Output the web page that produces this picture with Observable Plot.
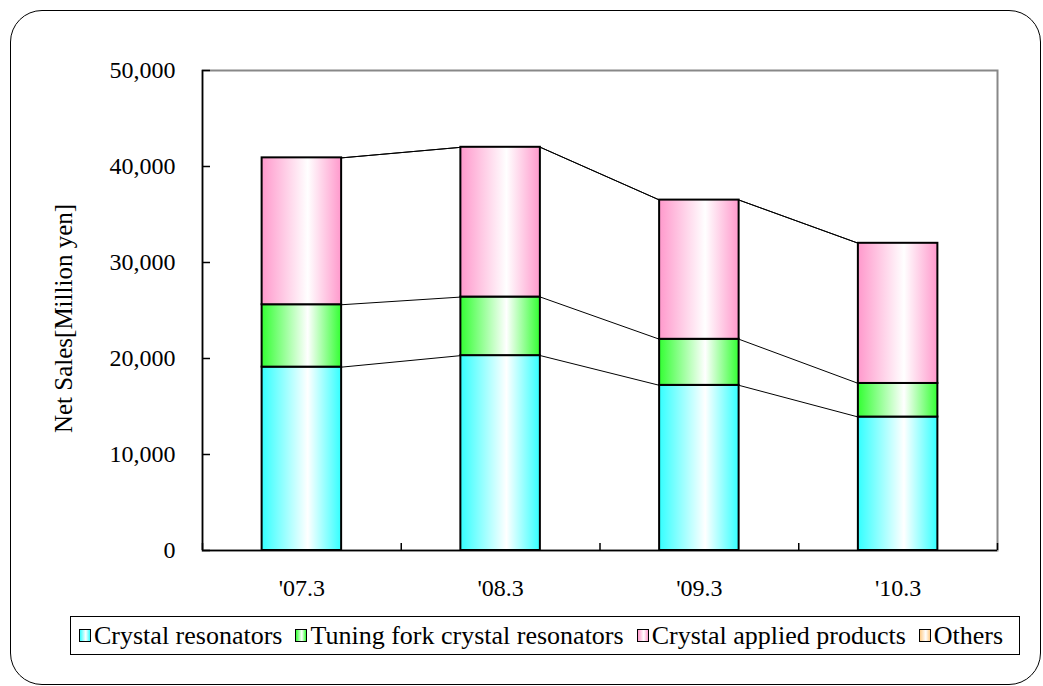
<!DOCTYPE html>
<html>
<head>
<meta charset="utf-8">
<script src="https://cdn.jsdelivr.net/npm/d3@7"></script>
<script src="https://cdn.jsdelivr.net/npm/@observablehq/plot@0.6"></script>
<style>
  body { margin: 0; background: #fff; font-family: "Liberation Serif", "Times New Roman", Times, serif; }
  #wrap { position: relative; width: 1043px; height: 686px; overflow: hidden; background: #fff; }
  #border { position: absolute; left: 10px; top: 10px; width: 1031px; height: 675px; border: 1.5px solid #000; border-radius: 32px; box-sizing: border-box; }
  #chart { position: absolute; left: 0; top: 0; }
  #chart svg, #chart svg text { font-family: "Liberation Serif", "Times New Roman", Times, serif !important; }
  #legend { position: absolute; left: 70px; top: 616px; width: 950px; height: 39px; border: 1px solid #000; box-sizing: border-box; background: #fff;
            display: flex; align-items: center; padding-left: 8px; font-size: 26px; color: #000; white-space: nowrap; }
  .item { display: flex; align-items: center; margin-right: 13px; }
  .sw { width: 10px; height: 11px; border: 1.5px solid #000; margin-right: 3px; }
</style>
</head>
<body>
<div id="wrap">
  <div id="border"></div>
  <div id="chart"></div>
  <div id="legend"></div>
</div>
<script>
// ---- data ----
const categories = ["'07.3", "'08.3", "'09.3", "'10.3"];
const seriesNames = ["Crystal resonators", "Tuning fork crystal resonators", "Crystal applied products", "Others"];
const crystalResonators = [19100, 20300, 17200, 13900];
const tuningFork = [6500, 6100, 4800, 3500];
const appliedProducts = [15300, 15600, 14500, 14600];
const others = [0, 0, 0, 0];
const yTicks = [0, 10000, 20000, 30000, 40000, 50000];
const seriesColors = ["#33ffff", "#33ff33", "#ff99cc", "#ffcc88"];

const seriesValues = [crystalResonators, tuningFork, appliedProducts, others];

// stacked rows
const rows = [];
const tops = seriesValues.map(() => []);
categories.forEach((c, i) => {
  let acc = 0;
  seriesValues.forEach((vals, s) => {
    const y1 = acc; acc += vals[i];
    rows.push({cat: c, i, s, y1, y2: acc});
    tops[s].push(acc);
  });
});

const hw = 0.2; // half bar width in band units
const links = [];
tops.forEach((t, s) => {
  for (let i = 0; i < t.length - 1; i++) {
    links.push({x1: i + 0.5 + hw, x2: i + 1.5 - hw, y1: t[i], y2: t[i + 1]});
  }
});

// gradient defs mark
function gradientDefs() {
  const defs = d3.create("svg:defs");
  seriesColors.forEach((col, s) => {
    const g = defs.append("linearGradient").attr("id", "grad" + s).attr("x1", 0).attr("x2", 1).attr("y1", 0).attr("y2", 0);
    g.append("stop").attr("offset", "0%").attr("stop-color", col);
    g.append("stop").attr("offset", "58%").attr("stop-color", "#ffffff");
    g.append("stop").attr("offset", "100%").attr("stop-color", col);
  });
  return defs.node();
}

const barMarks = seriesNames.map((name, s) =>
  Plot.rectY(rows.filter(d => d.s === s && d.y2 > d.y1), {
    x1: d => d.i + 0.5 - hw,
    x2: d => d.i + 0.5 + hw,
    y1: "y1",
    y2: "y2",
    fill: `url(#grad${s})`,
    stroke: "#000",
    strokeWidth: 2
  })
);

const plot = Plot.plot({
  width: 1043,
  height: 610,
  marginLeft: 202,
  marginRight: 46,
  marginTop: 70,
  marginBottom: 60,
  style: { fontFamily: "'Liberation Serif', 'Times New Roman', serif", fontSize: "24px", background: "transparent", color: "#000" },
  x: { type: "linear", domain: [0, 4] },
  y: { domain: [0, 50000] },
  marks: [
    gradientDefs,
    Plot.frame({ stroke: "#888", strokeWidth: 2 }),
    Plot.link(links, { x1: "x1", y1: "y1", x2: "x2", y2: "y2", stroke: "#000", strokeWidth: 1 }),
    ...barMarks,
    Plot.ruleY([0], { stroke: "#000", strokeWidth: 1.5 }),
    Plot.ruleX([0], { stroke: "#000", strokeWidth: 1.5 }),
    Plot.axisY({ ticks: yTicks, tickSize: -8, tickPadding: 35, strokeWidth: 1.5, tickFormat: d3.format(","), label: null, fontSize: 24 }),
    Plot.axisX({ ticks: [0, 1, 2, 3, 4], tickSize: -7, strokeWidth: 1.5, tickFormat: () => "", label: null }),
    Plot.axisX({ ticks: categories.map((c, i) => i + 0.5), tickSize: 0, tickPadding: 28, tickFormat: d => categories[Math.floor(d)], label: null, fontSize: 24 }),
    Plot.text(["Net Sales[Million yen]"], { frameAnchor: "left", rotate: -90, dx: -139, dy: 8, fontSize: 25, textAnchor: "middle" })
  ]
});
document.getElementById("chart").appendChild(plot);

// legend
const legend = d3.select("#legend");
seriesNames.forEach((name, s) => {
  const it = legend.append("div").attr("class", "item");
  it.append("div").attr("class", "sw")
    .style("background", `linear-gradient(to right, ${seriesColors[s]}, #ffffff 58%, ${seriesColors[s]})`);
  it.append("span").text(name);
});
</script>
</body>
</html>
